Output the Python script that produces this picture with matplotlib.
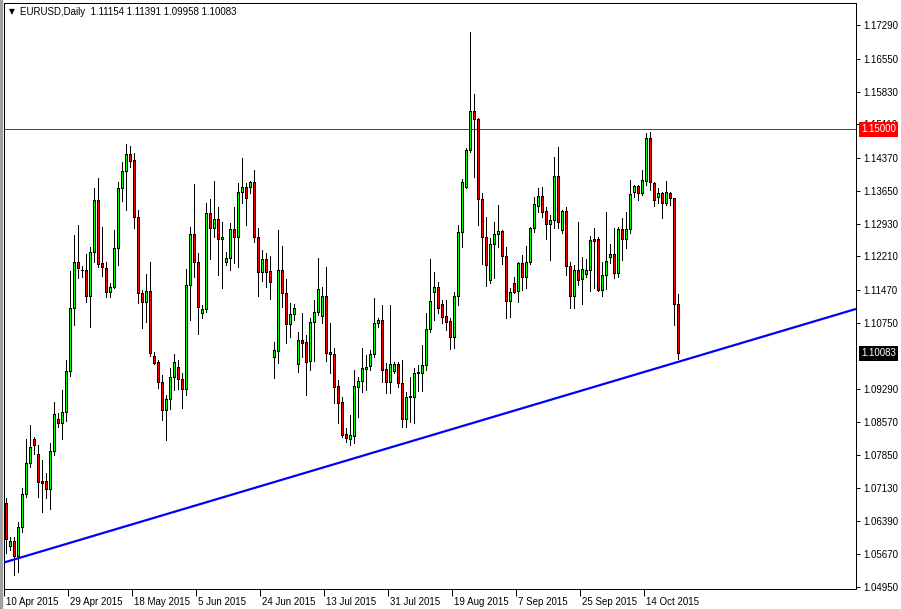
import matplotlib
matplotlib.use("Agg")
import matplotlib.pyplot as plt
import matplotlib.transforms as mtransforms
import numpy as np
from matplotlib.patches import Rectangle

symbol = "EURUSD,Daily"

# daily bars, 10 Apr 2015 .. 23 Oct 2015 (broker feed has Sunday bars)
opens = [
    1.0679, 1.0585, 1.0596, 1.0563, 1.0627, 1.0699, 1.0767, 1.0820, 1.0787, 1.0728,  # 0
    1.0728, 1.0710, 1.0794, 1.0864, 1.0855, 1.0879, 1.0969, 1.1108, 1.1209, 1.1191,  # 10
    1.1191, 1.1134, 1.1231, 1.1345, 1.1206, 1.1195, 1.1143, 1.1154, 1.1239, 1.1371,  # 20
    1.1408, 1.1446, 1.1433, 1.1307, 1.1141, 1.1121, 1.1145, 1.1002, 1.0989, 1.0945,  # 30
    1.0884, 1.0908, 1.0956, 1.0978, 1.0952, 1.0930, 1.1158, 1.1270, 1.1209, 1.1097,  # 40
    1.1105, 1.1316, 1.1283, 1.1303, 1.1259, 1.1209, 1.1217, 1.1281, 1.1263, 1.1362,  # 50
    1.1373, 1.1373, 1.1384, 1.1263, 1.1187, 1.1215, 1.1189, 1.1000, 1.1013, 1.1191,  # 60
    1.1141, 1.1073, 1.1094, 1.0985, 1.1037, 1.1033, 1.0991, 1.1077, 1.1099, 1.1090,  # 70
    1.1134, 1.1011, 1.1007, 1.0936, 1.0901, 1.0831, 1.0820, 1.0827, 1.0934, 1.0947,  # 80
    1.0974, 1.0980, 1.1007, 1.1075, 1.1081, 1.0974, 1.0945, 1.0969, 1.0985, 1.0943,  # 90
    1.0864, 1.0912, 1.0912, 1.0965, 1.0965, 1.0982, 1.1062, 1.1143, 1.1154, 1.1116,  # 100
    1.1090, 1.1079, 1.1044, 1.1134, 1.1275, 1.1373, 1.1455, 1.1540, 1.1523, 1.1347,  # 110
    1.1263, 1.1169, 1.1248, 1.1270, 1.1277, 1.1222, 1.1123, 1.1163, 1.1145, 1.1206,  # 120
    1.1176, 1.1209, 1.1283, 1.1332, 1.1354, 1.1321, 1.1292, 1.1301, 1.1397, 1.1279,  # 130
    1.1321, 1.1200, 1.1134, 1.1191, 1.1171, 1.1182, 1.1191, 1.1259, 1.1259, 1.1147,  # 140
    1.1180, 1.1220, 1.1226, 1.1184, 1.1281, 1.1259, 1.1281, 1.1362, 1.1375, 1.1360,  # 150
    1.1386, 1.1481, 1.1382, 1.1351, 1.1360, 1.1338, 1.1360, 1.1349, 1.11154,         # 160
]
highs = [
    1.0690, 1.0605, 1.0605, 1.0638, 1.0712, 1.0820, 1.0851, 1.0824, 1.0807, 1.0774,
    1.0745, 1.0811, 1.0901, 1.0877, 1.0928, 1.0993, 1.1189, 1.1268, 1.1290, 1.1200,
    1.1226, 1.1242, 1.1371, 1.1393, 1.1286, 1.1209, 1.1163, 1.1279, 1.1384, 1.1428,
    1.1468, 1.1463, 1.1448, 1.1323, 1.1147, 1.1182, 1.1209, 1.1011, 1.0993, 1.0960,
    1.0917, 1.0976, 1.1007, 1.0993, 1.0965, 1.1193, 1.1286, 1.1380, 1.1228, 1.1114,
    1.1338, 1.1347, 1.1386, 1.1329, 1.1296, 1.1231, 1.1294, 1.1329, 1.1382, 1.1437,
    1.1382, 1.1386, 1.1411, 1.1283, 1.1235, 1.1228, 1.1222, 1.1033, 1.1279, 1.1244,
    1.1171, 1.1119, 1.1116, 1.1055, 1.1097, 1.1048, 1.1086, 1.1125, 1.1217, 1.1154,
    1.1198, 1.1075, 1.1020, 1.0950, 1.0912, 1.0844, 1.0873, 1.0972, 1.0956, 1.1020,
    1.1004, 1.1015, 1.1130, 1.1086, 1.1114, 1.0987, 1.1114, 1.0989, 1.0989, 1.0993,
    1.0923, 1.0956, 1.0976, 1.0982, 1.1026, 1.1097, 1.1215, 1.1187, 1.1165, 1.1125,
    1.1125, 1.1086, 1.1143, 1.1290, 1.1391, 1.1459, 1.1714, 1.1578, 1.1525, 1.1360,
    1.1307, 1.1261, 1.1296, 1.1334, 1.1279, 1.1242, 1.1152, 1.1176, 1.1209, 1.1224,
    1.1244, 1.1286, 1.1351, 1.1371, 1.1373, 1.1329, 1.1312, 1.1439, 1.1461, 1.1323,
    1.1329, 1.1209, 1.1202, 1.1296, 1.1220, 1.1215, 1.1266, 1.1283, 1.1263, 1.1209,
    1.1319, 1.1248, 1.1283, 1.1286, 1.1305, 1.1319, 1.1389, 1.1378, 1.1378, 1.1411,
    1.1492, 1.1494, 1.1384, 1.1371, 1.1362, 1.1386, 1.1362, 1.1350, 1.11391,
]
lows = [
    1.0570, 1.0576, 1.0521, 1.0528, 1.0616, 1.0693, 1.0758, 1.0787, 1.0693, 1.0660,
    1.0690, 1.0666, 1.0785, 1.0846, 1.0820, 1.0860, 1.0958, 1.1070, 1.1174, 1.1176,
    1.1121, 1.1066, 1.1209, 1.1198, 1.1178, 1.1132, 1.1132, 1.1152, 1.1202, 1.1343,
    1.1323, 1.1417, 1.1283, 1.1119, 1.1064, 1.1077, 1.1002, 1.0985, 1.0932, 1.0862,
    1.0818, 1.0886, 1.0928, 1.0930, 1.0888, 1.0917, 1.1081, 1.1176, 1.1051, 1.1086,
    1.1099, 1.1215, 1.1263, 1.1180, 1.1152, 1.1202, 1.1191, 1.1206, 1.1198, 1.1338,
    1.1290, 1.1360, 1.1253, 1.1134, 1.1167, 1.1154, 1.1127, 1.0954, 1.0987, 1.1110,
    1.1031, 1.1044, 1.1081, 1.0967, 1.1000, 1.0917, 1.0972, 1.0991, 1.1092, 1.1075,
    1.0991, 1.0965, 1.0899, 1.0855, 1.0824, 1.0813, 1.0807, 1.0811, 1.0868, 1.0923,
    1.0928, 1.0972, 1.1000, 1.1066, 1.0945, 1.0921, 1.0921, 1.0965, 1.0934, 1.0846,
    1.0846, 1.0857, 1.0855, 1.0925, 1.0925, 1.0972, 1.1055, 1.1081, 1.1097, 1.1075,
    1.1059, 1.1018, 1.1020, 1.1114, 1.1242, 1.1371, 1.1450, 1.1395, 1.1290, 1.1204,
    1.1156, 1.1163, 1.1174, 1.1242, 1.1204, 1.1086, 1.1088, 1.1141, 1.1121, 1.1147,
    1.1152, 1.1204, 1.1275, 1.1319, 1.1307, 1.1259, 1.1213, 1.1283, 1.1283, 1.1272,
    1.1180, 1.1108, 1.1108, 1.1158, 1.1116, 1.1176, 1.1145, 1.1152, 1.1145, 1.1134,
    1.1149, 1.1206, 1.1174, 1.1176, 1.1213, 1.1239, 1.1272, 1.1351, 1.1345, 1.1356,
    1.1378, 1.1367, 1.1332, 1.1338, 1.1305, 1.1334, 1.1334, 1.1070, 1.09958,
]
closes = [
    1.0600, 1.0596, 1.0563, 1.0627, 1.0699, 1.0767, 1.0802, 1.0807, 1.0726, 1.0723,
    1.0710, 1.0794, 1.0875, 1.0855, 1.0879, 1.0969, 1.1108, 1.1209, 1.1195, 1.1191,
    1.1134, 1.1231, 1.1345, 1.1204, 1.1198, 1.1143, 1.1154, 1.1239, 1.1371, 1.1408,
    1.1446, 1.1430, 1.1307, 1.1141, 1.1121, 1.1145, 1.1009, 1.0987, 1.0945, 1.0884,
    1.0908, 1.0956, 1.0989, 1.0952, 1.0930, 1.1158, 1.1270, 1.1209, 1.1110, 1.1105,
    1.1316, 1.1283, 1.1303, 1.1259, 1.1263, 1.1217, 1.1281, 1.1263, 1.1362, 1.1373,
    1.1349, 1.1384, 1.1263, 1.1187, 1.1215, 1.1187, 1.1165, 1.1015, 1.1191, 1.1141,
    1.1073, 1.1094, 1.1108, 1.1037, 1.1031, 1.0989, 1.1077, 1.1099, 1.1149, 1.1134,
    1.1009, 1.1007, 1.0934, 1.0899, 1.0829, 1.0822, 1.0829, 1.0936, 1.0947, 1.0976,
    1.0978, 1.1007, 1.1075, 1.1081, 1.0972, 1.0945, 1.0985, 1.0985, 1.0943, 1.0864,
    1.0912, 1.0914, 1.0965, 1.0967, 1.0982, 1.1062, 1.1123, 1.1154, 1.1108, 1.1088,
    1.1077, 1.1044, 1.1134, 1.1275, 1.1384, 1.1455, 1.1540, 1.1523, 1.1347, 1.1263,
    1.1202, 1.1248, 1.1270, 1.1277, 1.1222, 1.1123, 1.1143, 1.1143, 1.1206, 1.1176,
    1.1209, 1.1283, 1.1336, 1.1354, 1.1319, 1.1292, 1.1301, 1.1397, 1.1296, 1.1321,
    1.1200, 1.1134, 1.1191, 1.1169, 1.1193, 1.1191, 1.1257, 1.1255, 1.1147, 1.1180,
    1.1211, 1.1226, 1.1184, 1.1281, 1.1259, 1.1281, 1.1358, 1.1375, 1.1360, 1.1389,
    1.1481, 1.1384, 1.1345, 1.1360, 1.1338, 1.1362, 1.1349, 1.1116, 1.10083,
]

date_labels = ["10 Apr 2015", "29 Apr 2015", "18 May 2015", "5 Jun 2015",
               "24 Jun 2015", "13 Jul 2015", "31 Jul 2015", "19 Aug 2015",
               "7 Sep 2015", "25 Sep 2015", "14 Oct 2015"]
date_bars = [0, 16, 32, 48, 64, 80, 96, 112, 128, 144, 160]

price_ticks = [1.17290, 1.16550, 1.15830, 1.15110, 1.14370, 1.13650, 1.12930,
               1.12210, 1.11470, 1.10750, 1.09290, 1.08570, 1.07850, 1.07130,
               1.06390, 1.05670, 1.04950]

level_price = 1.15000
trend_bars = [0, 168]
trend_prices = [1.0550, 1.0989]

plt.rcParams["font.family"] = ["Liberation Sans", "DejaVu Sans"]

W, H, DPI = 901, 609, 100
PX = 72 / DPI  # one pixel in points
fig = plt.figure(figsize=(W / DPI, H / DPI), dpi=DPI)
fig.patch.set_facecolor("white")
# chart frame in pixels: x 4..856, y 3..589 (from top)
ax = fig.add_axes([4 / W, (H - 589) / H, 852 / W, 586 / H])
ax.set_xlim(-0.375, 212.625)
ax.set_ylim(1.04906, 1.17774)

o = np.asarray(opens)
h = np.asarray(highs)
l = np.asarray(lows)
c = np.asarray(closes)
idx = np.arange(len(o))
up = c >= o

ax.vlines(idx, l, h, color="black", linewidth=PX, antialiased=False, zorder=2)
body_lo = np.minimum(o, c)
body_h = np.maximum(np.abs(c - o), 0.00003)
ax.bar(idx, body_h, bottom=body_lo, width=0.5,
       color=["#00ff00" if u else "#ff0000" for u in up],
       edgecolor="black", linewidth=PX, antialiased=False, zorder=3)

# horizontal level and the rising trend line (extended to the right edge)
ax.axhline(level_price, color="#ff0000", linewidth=PX, antialiased=False, zorder=1)
slope = (trend_prices[1] - trend_prices[0]) / (trend_bars[1] - trend_bars[0])
x0, x1 = ax.get_xlim()
ax.plot([x0, x1],
        [trend_prices[0] + slope * (x0 - trend_bars[0]),
         trend_prices[0] + slope * (x1 - trend_bars[0])],
        color="#0000ff", linewidth=1.6, zorder=4, solid_capstyle="butt")

for s in ax.spines.values():
    s.set_color("black")
    s.set_linewidth(PX)

ax.yaxis.tick_right()
ax.set_yticks(price_ticks)
ax.set_yticklabels([f"{p:.5f}" for p in price_ticks])
ax.tick_params(axis="y", direction="out", length=3, width=PX, pad=2,
               labelsize=7, colors="black")

ax.set_xticks([b - 0.45 for b in date_bars])
ax.set_xticklabels(date_labels, ha="left")
ax.tick_params(axis="x", direction="out", length=5, width=PX, pad=0.5,
               labelsize=7, colors="black")
shift = mtransforms.ScaledTranslation(2 / DPI, 0, fig.dpi_scale_trans)
for lbl in ax.get_xticklabels():
    lbl.set_transform(lbl.get_transform() + shift)

# price tags on the scale
for price, face in [(level_price, "#ff0000"), (closes[-1], "black")]:
    ax.text(1.0 + 5 / 852, price, f"{price:.5f}", transform=ax.get_yaxis_transform(),
            ha="left", va="center", color="white", fontsize=7, clip_on=False,
            bbox=dict(boxstyle="square,pad=0.25", fc=face, ec="none"), zorder=6)

# header
fig.text(9 / W, 1 - 12 / H, "\u25bc", fontsize=5.5, family="DejaVu Sans",
         va="center", ha="left")
fig.text(20 / W, 1 - 12 / H,
         f"{symbol}  {opens[-1]:.5f} {highs[-1]:.5f} {lows[-1]:.5f} {closes[-1]:.5f}",
         fontsize=7, va="center", ha="left")

fig.patches.append(Rectangle((0, 0), 2 / W, 1, transform=fig.transFigure,
                             color="#a0a0a0", zorder=0))

fig.savefig("out.png", dpi=DPI)
